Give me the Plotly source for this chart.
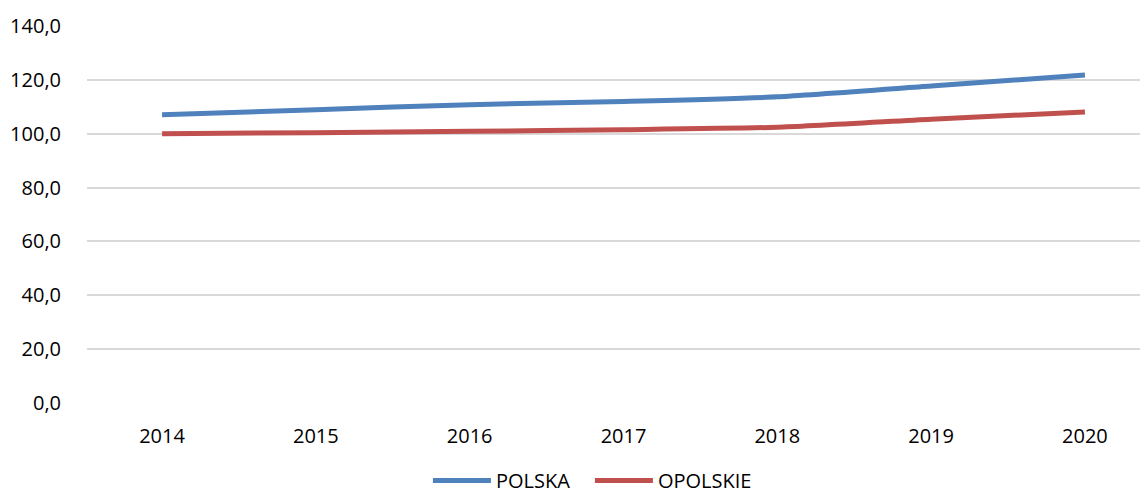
import plotly.graph_objects as go

years = [2014, 2015, 2016, 2017, 2018, 2019, 2020]
polska = [107.0, 108.9, 110.8, 112.0, 113.7, 117.7, 121.8]
opolskie = [100.0, 100.4, 100.9, 101.5, 102.4, 105.4, 108.1]
y_ticks = [0, 20, 40, 60, 80, 100, 120, 140]

fig = go.Figure()
fig.add_trace(go.Scatter(x=years, y=polska, name="POLSKA", mode="lines",
                         line=dict(color="#4F81BD", width=5, shape="spline", smoothing=0.6)))
fig.add_trace(go.Scatter(x=years, y=opolskie, name="OPOLSKIE", mode="lines",
                         line=dict(color="#C0504D", width=5, shape="spline", smoothing=0.6)))

fig.update_layout(
    width=1140, height=487,
    margin=dict(l=79, r=0, t=18, b=92),
    paper_bgcolor="white", plot_bgcolor="white",
    font=dict(family="Open Sans, Liberation Sans, sans-serif", size=20, color="#000000"),
    separators=",.",
    showlegend=True,
    legend=dict(orientation="h", x=0.474, xanchor="center", yref="container",
                y=0.03, yanchor="middle", font=dict(size=20), itemwidth=58,
                entrywidth=89, entrywidthmode="pixels",
                traceorder="normal"),
)
fig.update_xaxes(range=[2013.512, 2020.41], tickvals=years, ticktext=[str(y) for y in years],
                 showgrid=False, zeroline=False, showline=False, ticks="",
                 ticklabelstandoff=19, tickfont=dict(size=20))
fig.update_yaxes(range=[0, 140], tickvals=y_ticks, tickformat=".1f",
                 showgrid=True, gridcolor="#D9D9D9", gridwidth=1.5,
                 zeroline=False, showline=False, ticks="",
                 ticklabelstandoff=25, tickfont=dict(size=20))

fig.write_html("out.html")
